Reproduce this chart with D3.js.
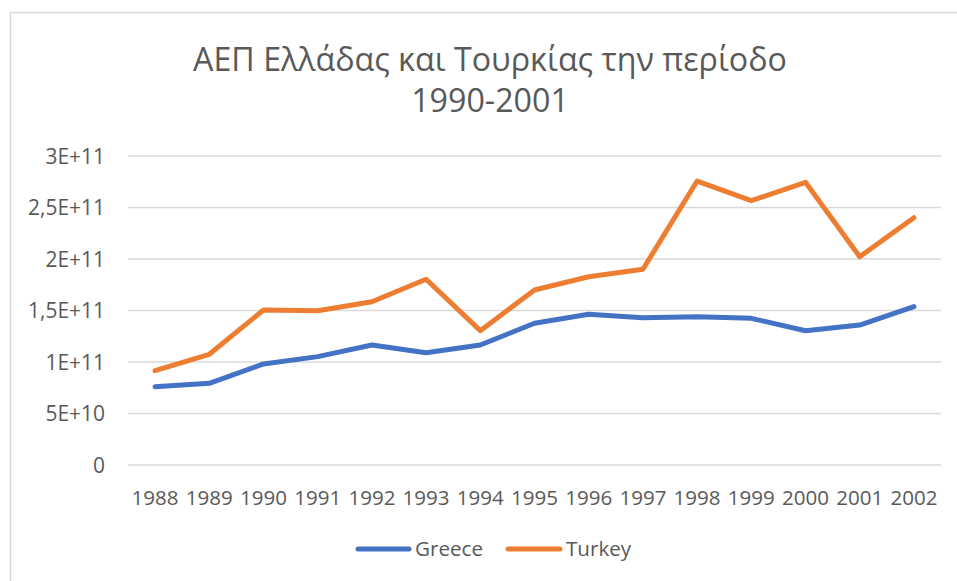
<!DOCTYPE html>
<html><head><meta charset="utf-8">
<script src="https://cdn.jsdelivr.net/npm/d3@7"></script>
<style>body{margin:0;background:#fff}svg{display:block}text{font-family:"Open Sans",sans-serif;fill:#595959}</style>
</head><body>
<script>
const years = ["1988","1989","1990","1991","1992","1993","1994","1995","1996","1997","1998","1999","2000","2001","2002"];
const greece = [7.60e10,7.93e10,9.81e10,1.052e11,1.165e11,1.090e11,1.165e11,1.376e11,1.463e11,1.430e11,1.440e11,1.424e11,1.304e11,1.359e11,1.537e11];
const turkey = [9.16e10,1.075e11,1.505e11,1.498e11,1.585e11,1.803e11,1.304e11,1.699e11,1.828e11,1.900e11,2.757e11,2.566e11,2.745e11,2.022e11,2.401e11];
const yTicks = [0,5e10,1e11,1.5e11,2e11,2.5e11,3e11];
const yTickLabels = ["0","5E+10","1E+11","1,5E+11","2E+11","2,5E+11","3E+11"];
const titleLines = ["ΑΕΠ Ελλάδας και Τουρκίας την περίοδο","1990-2001"];
const seriesNames = ["Greece","Turkey"];
const colors = ["#4472C4","#ED7D31"];

const W=957,H=581;
const svg=d3.select("body").append("svg").attr("width",W).attr("height",H);
svg.append("rect").attr("x",10.5).attr("y",12.5).attr("width",1000).attr("height",700)
  .attr("fill","#fff").attr("stroke","#D9D9D9").attr("stroke-width",1.5);

const L=128,R=941,T=156,B=465;
const x=d3.scaleBand().domain(years).range([L,R]);
const y=d3.scaleLinear().domain([0,3e11]).range([B,T]);

function fitSize(sel,txt,w,base){
  const t=svg.append("text").style("font-size",base+"px").text(txt);
  const l=t.node().getComputedTextLength();t.remove();return base*w/l;
}

// gridlines
svg.append("g").selectAll("line").data(yTicks).join("line")
  .attr("x1",L).attr("x2",R).attr("y1",d=>y(d)).attr("y2",d=>y(d))
  .attr("stroke","#D9D9D9").attr("stroke-width",1.5);

const fsY=fitSize(svg,"2,5E+11",77,20);
const fsX=fitSize(svg,"1988",47,20);
const fsL=fitSize(svg,"Greece",68,20);

// y axis labels
const yAxis=d3.axisLeft(y).tickValues(yTicks).tickFormat((d,i)=>yTickLabels[i]).tickSize(0).tickPadding(0);
const gy=svg.append("g").attr("transform",`translate(105,0)`).call(yAxis);
gy.select(".domain").remove();
gy.selectAll("text").style("font-size",fsY+"px").style("fill","#595959").attr("dy","0.35em");

// x axis labels
const xAxis=d3.axisBottom(x).tickSize(0).tickPadding(0);
const gx=svg.append("g").attr("transform",`translate(0,${B+33})`).call(xAxis);
gx.select(".domain").remove();
gx.selectAll("text").style("font-size",fsX+"px").style("fill","#595959").attr("dy","0.35em");

const line=d3.line().x((d,i)=>x(years[i])+x.bandwidth()/2).y(d=>y(d));
[greece,turkey].forEach((s,k)=>{
  svg.append("path").datum(s).attr("d",line).attr("fill","none")
    .attr("stroke",colors[k]).attr("stroke-width",5).attr("stroke-linejoin","round").attr("stroke-linecap","round");
});

// title
const fsT=fitSize(svg,titleLines[0],594,28);
svg.append("text").attr("x",490).attr("y",60).attr("text-anchor","middle").attr("dy","0.35em").style("font-size",fsT+"px").text(titleLines[0]);
svg.append("text").attr("x",490).attr("y",101).attr("text-anchor","middle").attr("dy","0.35em").style("font-size",fsT+"px").text(titleLines[1]);

// legend
const leg=[{x1:358,x2:409,tx:415},{x1:508,x2:560,tx:566}];
seriesNames.forEach((n,k)=>{
  svg.append("line").attr("x1",leg[k].x1).attr("x2",leg[k].x2).attr("y1",549).attr("y2",549)
    .attr("stroke",colors[k]).attr("stroke-width",5).attr("stroke-linecap","round");
  svg.append("text").attr("x",leg[k].tx).attr("y",549).attr("dy","0.35em").style("font-size",fsL+"px").text(n);
});
</script>
</body></html>
